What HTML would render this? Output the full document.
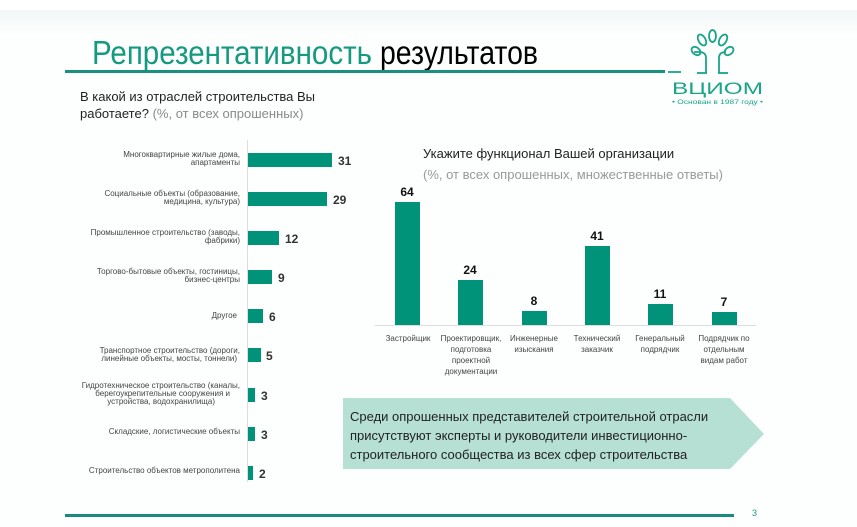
<!DOCTYPE html>
<html><head><meta charset="utf-8"><style>
html,body{margin:0;padding:0;background:#fff}
svg{display:block}
text{font-family:"Liberation Sans","DejaVu Sans",sans-serif}
</style></head><body>
<svg width="857" height="527" viewBox="0 0 857 527" xmlns="http://www.w3.org/2000/svg">
<defs><linearGradient id="g" x1="0" y1="0" x2="0" y2="1"><stop offset="0" stop-color="#f2f6f7"/><stop offset="1" stop-color="#fdfefe"/></linearGradient></defs>
<rect x="0" y="10" width="857" height="25" fill="url(#g)"/>
<rect x="0" y="35" width="857" height="492" fill="#fdfefe"/>
<!-- title -->
<text x="92" y="64" font-size="33" fill="#159a7f" textLength="280" lengthAdjust="spacingAndGlyphs">Репрезентативность</text>
<text x="380" y="64" font-size="33" fill="#000" textLength="158" lengthAdjust="spacingAndGlyphs">результатов</text>
<rect x="65" y="70" width="600" height="3" fill="#1a9080"/>
<!-- logo -->
<g stroke="#1aa588" fill="none" stroke-width="1.8">
<path d="M706 73 L706 58 Q706 52 699 52 L694 52"/>
<path d="M719 73 L719 58 Q719 52 726 52"/>
<line x1="668" y1="72" x2="681" y2="72"/><line x1="697" y1="73" x2="707" y2="73"/><line x1="718" y1="73" x2="728" y2="73"/>
<ellipse cx="712.5" cy="36" rx="3.5" ry="6"/><ellipse cx="702" cy="40" rx="3.5" ry="6" transform="rotate(-30 702 40)"/><ellipse cx="723" cy="40" rx="3.5" ry="6" transform="rotate(30 723 40)"/>
<ellipse cx="696" cy="51" rx="3.5" ry="5" transform="rotate(-50 696 51)"/><ellipse cx="729" cy="51" rx="3.5" ry="5" transform="rotate(50 729 51)"/>
</g>
<text x="672" y="94" font-size="17" fill="#1aa588" textLength="91" lengthAdjust="spacingAndGlyphs">ВЦИОМ</text>
<text x="672" y="104" font-size="6" fill="#1aa588" textLength="91" lengthAdjust="spacingAndGlyphs">• Основан в 1987 году •</text>
<!-- left question -->
<text x="80" y="101" font-size="13" fill="#222">В какой из отраслей строительства Вы</text>
<text x="80" y="118" font-size="13" fill="#222">работаете? <tspan fill="#8a8a8a">(%, от всех опрошенных)</tspan></text>
<!-- left chart -->
<line x1="247.5" y1="140" x2="247.5" y2="482" stroke="#ddd"/>
<g fill="#00937a">
<rect x="248" y="153" width="84" height="14"/>
<rect x="248" y="192" width="79" height="14"/>
<rect x="248" y="231" width="31" height="14"/>
<rect x="248" y="270" width="24" height="14"/>
<rect x="248" y="309" width="15" height="14"/>
<rect x="248" y="348" width="13" height="14"/>
<rect x="248" y="388" width="7" height="14"/>
<rect x="248" y="427" width="7" height="14"/>
<rect x="248" y="466" width="5" height="14"/>
</g>
<g font-size="12" font-weight="bold" fill="#333">
<text x="338" y="165">31</text><text x="333" y="204">29</text><text x="285" y="243">12</text><text x="278" y="282">9</text><text x="269" y="321">6</text><text x="266" y="360">5</text><text x="261" y="400">3</text><text x="261" y="439">3</text><text x="259" y="478">2</text>
</g>
<g font-size="8" fill="#444" text-anchor="end">
<text x="240" y="157">Многоквартирные жилые дома,</text><text x="240" y="165">апартаменты</text>
<text x="240" y="196">Социальные объекты (образование,</text><text x="240" y="204">медицина, культура)</text>
<text x="240" y="235">Промышленное строительство (заводы,</text><text x="240" y="243">фабрики)</text>
<text x="240" y="274">Торгово-бытовые объекты, гостиницы,</text><text x="240" y="282">бизнес-центры</text>
<text x="237" y="318">Другое</text>
<text x="240" y="353">Транспортное строительство (дороги,</text><text x="237" y="361">линейные объекты, мосты, тоннели)</text>
<text x="240" y="388">Гидротехническое строительство (каналы,</text><text x="230" y="396">берегоукрепительные сооружения и</text><text x="215" y="404">устройства, водохранилища)</text>
<text x="240" y="434">Складские, логистические объекты</text>
<text x="240" y="473">Строительство объектов метрополитена</text>
</g>
<!-- right chart -->
<text x="423" y="158" font-size="13" fill="#222">Укажите функционал Вашей организации</text>
<text x="423" y="179" font-size="13" fill="#999">(%, от всех опрошенных, множественные ответы)</text>
<line x1="375" y1="325.5" x2="756" y2="325.5" stroke="#ddd"/>
<g fill="#00937a">
<rect x="395" y="202" width="25" height="123"/>
<rect x="458" y="280" width="25" height="45"/>
<rect x="522" y="311" width="25" height="14"/>
<rect x="585" y="246" width="25" height="79"/>
<rect x="648" y="304" width="25" height="21"/>
<rect x="712" y="312" width="25" height="13"/>
</g>
<g font-size="12" font-weight="bold" fill="#111" text-anchor="middle">
<text x="407" y="196">64</text><text x="470" y="274">24</text><text x="534" y="305">8</text><text x="597" y="240">41</text><text x="660" y="298">11</text><text x="724" y="306">7</text>
</g>
<g font-size="8" fill="#444" text-anchor="middle">
<text x="408" y="341">Застройщик</text>
<text x="471" y="341">Проектировщик,</text><text x="471" y="352">подготовка</text><text x="471" y="363">проектной</text><text x="471" y="374">документации</text>
<text x="534" y="341">Инженерные</text><text x="534" y="352">изыскания</text>
<text x="597" y="341">Технический</text><text x="597" y="352">заказчик</text>
<text x="660" y="341">Генеральный</text><text x="660" y="352">подрядчик</text>
<text x="724" y="341">Подрядчик по</text><text x="724" y="352">отдельным</text><text x="724" y="363">видам работ</text>
</g>
<!-- callout -->
<polygon points="343,398 730,398 764,434 730,469 343,469" fill="#b5e0d3"/>
<g font-size="13" fill="#222">
<text x="350" y="421">Среди опрошенных представителей строительной отрасли</text>
<text x="350" y="440">присутствуют эксперты и руководители инвестиционно-</text>
<text x="350" y="459">строительного сообщества из всех сфер строительства</text>
</g>
<!-- footer -->
<rect x="65" y="514" width="669" height="3" fill="#1a8a80"/>
<text x="752" y="516" font-size="9" fill="#1a9a80">3</text>
</svg>
</body></html>
